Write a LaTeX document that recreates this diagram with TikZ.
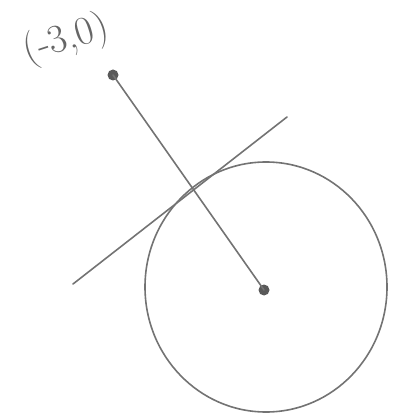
\documentclass[tikz,border=0pt]{standalone}
\begin{document}
\begin{tikzpicture}[x=1pt,y=-1pt,
  pen/.style={draw=black!55, line width=1.6pt, line cap=round},
  dot/.style={circle, fill=black!65, inner sep=0pt, minimum size=11pt}]
\useasboundingbox (0,0) rectangle (392,419);
\node[dot] (P) at (113,75) {};
\node[dot] (C) at (264,290) {};
\draw[pen] (P.center) -- (C.center);
\draw[pen] (266,287) ellipse [x radius=121, y radius=125];
\coordinate (T1) at (73,284);
\coordinate (T2) at (287,117);
\draw[pen] (T1) -- (T2);
\node[text=black!60, font=\fontsize{40}{40}\selectfont, rotate=18, inner sep=0pt] (L) at (66,40) {(-3,0)};
\end{tikzpicture}
\end{document}
